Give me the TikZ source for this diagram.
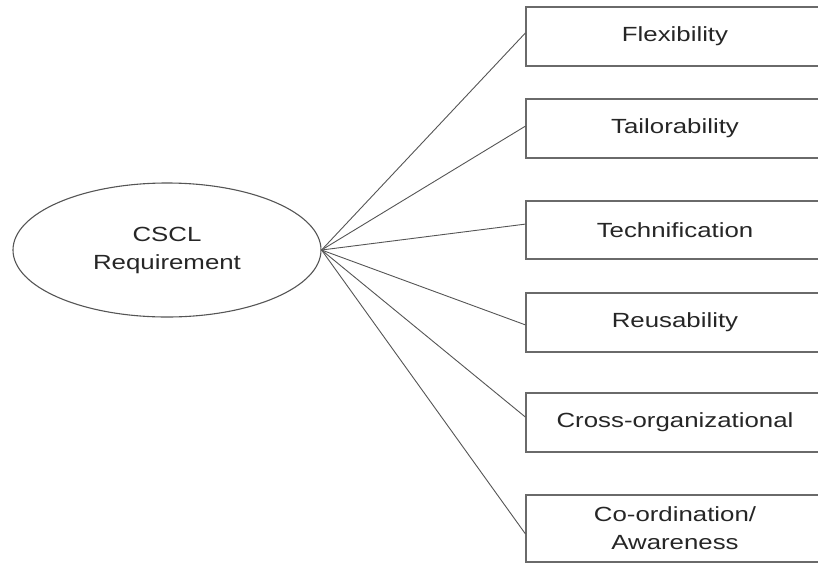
\documentclass[tikz,border=0pt]{standalone}
\usepackage{fontspec}
\setmainfont[FakeStretch=1.26]{Liberation Sans}
\usetikzlibrary{shapes.geometric,calc}
\definecolor{linec}{HTML}{555555}
\definecolor{boxc}{HTML}{6A6A6A}
\begin{document}
\begin{tikzpicture}[x=1pt,y=-1pt,
  reqbox/.style={draw=boxc,line width=1.1pt,rectangle,minimum width=298pt,inner sep=0pt,
    font=\fontsize{20.5}{28}\selectfont,text=black!85,align=center},
  reqell/.style={draw=linec,line width=1.1pt,ellipse,minimum width=308pt,minimum height=134pt,inner sep=0pt,
    font=\fontsize{20.5}{28}\selectfont,text=black!85,align=center},
  conn/.style={draw=linec,line width=0.9pt}]
\useasboundingbox (0,0) rectangle (818,563);
\clip (0,0) rectangle (818,563);
\node[reqell] (req) at (167,250) {CSCL\\Requirement};
\node[reqbox,minimum height=59pt] (b1) at (675,36.5) {Flexibility};
\node[reqbox,minimum height=59pt] (b2) at (675,128.5) {Tailorability};
\node[reqbox,minimum height=58pt] (b3) at (675,230) {Technification};
\node[reqbox,minimum height=59pt] (b4) at (675,322.5) {Reusability};
\node[reqbox,minimum height=59pt] (b5) at (675,422.5) {Cross-organizational};
\node[reqbox,minimum height=67pt] (b6) at (675,528.5) {Co-ordination/\\Awareness};
\coordinate (hub) at (req.east);
\draw[conn] (hub) -- ($(b1.north west)!0.44!(b1.south west)$);
\draw[conn] (hub) -- ($(b2.north west)!0.46!(b2.south west)$);
\draw[conn] (hub) -- ($(b3.north west)!0.40!(b3.south west)$);
\draw[conn] (hub) -- ($(b4.north west)!0.54!(b4.south west)$);
\draw[conn] (hub) -- ($(b5.north west)!0.41!(b5.south west)$);
\draw[conn] (hub) -- ($(b6.north west)!0.58!(b6.south west)$);
\end{tikzpicture}
\end{document}
